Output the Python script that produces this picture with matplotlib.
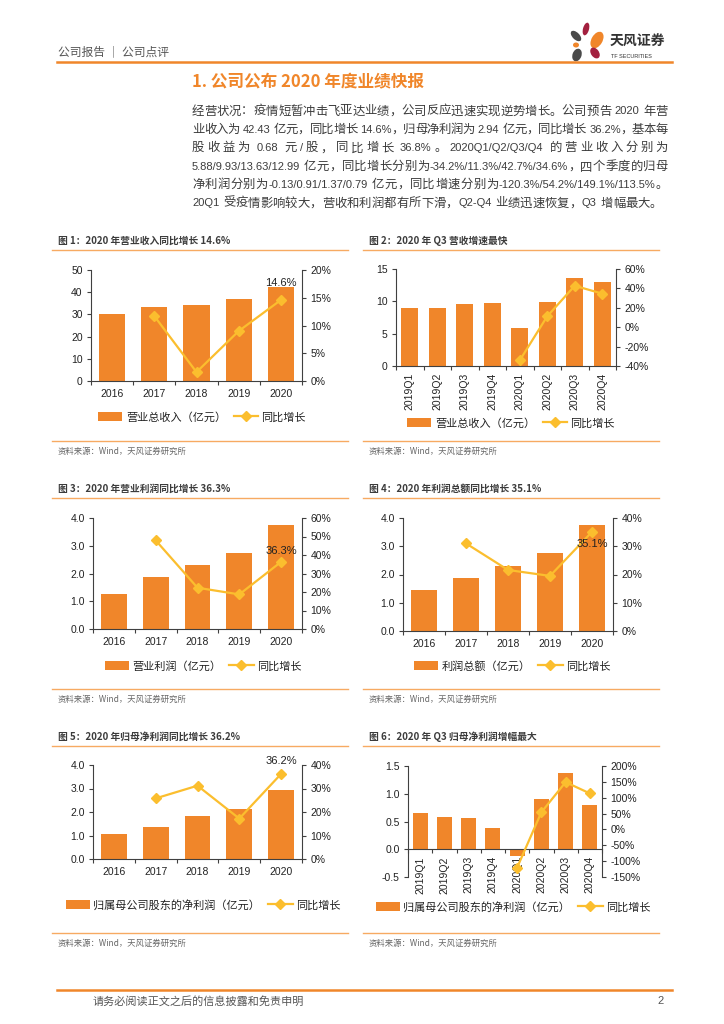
import re
import numpy as np
import matplotlib
matplotlib.use('Agg')
import matplotlib.pyplot as plt
from matplotlib.patches import Patch, Ellipse
from matplotlib.lines import Line2D
from matplotlib.ticker import FuncFormatter

plt.rcParams['font.family'] = ['Liberation Sans', 'Noto Sans CJK SC']
plt.rcParams['axes.unicode_minus'] = False

#==============================================================================#
# Dados
#==============================================================================#
years = ['2016', '2017', '2018', '2019', '2020']
quarters = ['2019Q1', '2019Q2', '2019Q3', '2019Q4',
            '2020Q1', '2020Q2', '2020Q3', '2020Q4']
nan = np.nan

rev_year = [30.0, 33.5, 34.1, 37.1, 42.43]
rev_year_yoy = [nan, 11.7, 1.6, 9.0, 14.6]
rev_q = [8.96, 8.9, 9.58, 9.74, 5.88, 9.93, 13.63, 12.99]
rev_q_yoy = [nan, nan, nan, nan, -34.2, 11.3, 42.7, 34.6]
op_profit = [1.27, 1.89, 2.31, 2.74, 3.74]
op_profit_yoy = [nan, 47.9, 22.3, 18.7, 36.3]
tot_profit = [1.44, 1.89, 2.31, 2.76, 3.74]
tot_profit_yoy = [nan, 31.0, 21.6, 19.5, 35.1]
net_profit = [1.08, 1.38, 1.82, 2.11, 2.94]
net_profit_yoy = [nan, 25.8, 31.2, 17.2, 36.2]
net_q = [0.65, 0.59, 0.56, 0.38, -0.13, 0.91, 1.37, 0.79]
net_q_yoy = [nan, nan, nan, nan, -120.3, 54.2, 149.1, 113.5]

titles = ['图 1：2020 年营业收入同比增长 14.6%',
          '图 2：2020 年 Q3 营收增速最快',
          '图 3：2020 年营业利润同比增长 36.3%',
          '图 4：2020 年利润总额同比增长 35.1%',
          '图 5：2020 年归母净利润同比增长 36.2%',
          '图 6：2020 年 Q3 归母净利润增幅最大']
source = '资料来源：Wind，天风证券研究所'

para = ['经营状况：疫情短暂冲击飞亚达业绩，公司反应迅速实现逆势增长。公司预告 2020 年营',
        '业收入为 42.43 亿元，同比增长 14.6%，归母净利润为 2.94 亿元，同比增长 36.2%，基本每',
        '股收益为 0.68 元/股，同比增长 36.8%。2020Q1/Q2/Q3/Q4 的营业收入分别为',
        '5.88/9.93/13.63/12.99 亿元，同比增长分别为-34.2%/11.3%/42.7%/34.6%，四个季度的归母',
        '净利润分别为-0.13/0.91/1.37/0.79 亿元，同比增速分别为-120.3%/54.2%/149.1%/113.5%。',
        '20Q1 受疫情影响较大，营收和利润都有所下滑，Q2-Q4 业绩迅速恢复，Q3 增幅最大。']

#==============================================================================#
# Estilo
#==============================================================================#
W, H = 724, 1024
BAR = '#F0862A'
LINE = '#FBBE2E'
ORANGE = '#F0862A'
RULE = '#F7AA62'
GREY = '#3c3c3c'
SPINE = '#404040'
CJK = ['Noto Sans CJK SC', 'DejaVu Sans']

fig = plt.figure(figsize=(W / 100, H / 100), dpi=100)
bg = fig.add_axes([0, 0, 1, 1])
bg.set_xlim(0, W)
bg.set_ylim(H, 0)
bg.axis('off')
renderer = fig.canvas.get_renderer()

#==============================================================================#
# Cabeçalho
#==============================================================================#
bg.text(58, 52, '公司报告 ｜ 公司点评', fontsize=8.5, color='#555555',
        family=CJK, va='center')
bg.plot([57, 672], [61.5, 61.5], color=ORANGE, lw=1.8)
#logo
petals = [(586, 29, 6, 13, 15, '#A3203F'), (576, 36, 7, 13, -45, '#4A4A4A'),
          (597, 40, 11, 18, 30, ORANGE), (576, 45, 6, 5, 0, ORANGE),
          (595, 53, 8, 12, -35, '#A3203F'), (577, 55, 9, 13, 20, '#4A4A4A')]
for px, py, pw, ph, pa, pc in petals:
    bg.add_patch(Ellipse((px, py), pw, ph, angle=pa, color=pc, lw=0))
bg.text(610, 42, '天风证券', fontsize=10, fontweight='bold', color='#333333',
        family=CJK, va='center')
bg.text(611, 56, 'TF SECURITIES', fontsize=4, color='#333333', va='center')

bg.text(192, 82, '1. 公司公布 2020 年度业绩快报', fontsize=12, color=ORANGE,
        family=CJK, fontweight='bold', va='center')


#texto justificado
def justify(s, y, x0, x1, size, stretch=True):
    parts = re.findall(r'\s+|[\x21-\x7e]+|.', s)
    toks = []
    sp = False
    for p in parts:
        if p.isspace():
            sp = True
            continue
        toks.append((p, sp))
        sp = False
    objs, widths = [], []
    for tok, _ in toks:
        if re.match(r'[\x21-\x7e]', tok):
            t = bg.text(0, y, tok, fontsize=size - 0.9, color=GREY,
                        family=['Liberation Sans'], va='baseline', ha='left')
        else:
            t = bg.text(0, y, tok, fontsize=size, color=GREY, family=CJK,
                        va='baseline', ha='left')
        widths.append(t.get_window_extent(renderer).width)
        objs.append(t)
    spw = size * 100 / 72 * 0.3
    gaps = [spw if b else 0 for _, b in toks[1:]]
    extra = (x1 - x0) - sum(widths) - sum(gaps) if stretch else 0
    each = extra / len(gaps) if gaps else 0
    x = x0
    for i, t in enumerate(objs):
        if i > 0:
            x += gaps[i - 1] + each
        t.set_x(x)
        x += widths[i]


for i, line in enumerate(para):
    justify(line, 114.5 + 18.4 * i, 192, 668, 8.9, stretch=i < len(para) - 1)


#==============================================================================#
# Gráficos
#==============================================================================#
def chart(box, cats, bars, yoy, ylim, ystep, yfmt, y2lim, y2step, bar_name,
          leg, note=None, rotate=False):
    l, t, r, b = box
    ax = fig.add_axes([l / W, 1 - b / H, (r - l) / W, (b - t) / H])
    ax.set_facecolor('none')
    if ylim[0] < 0:
        ax.spines['bottom'].set_position(('data', 0))
    x = np.arange(len(cats))
    ax.bar(x, bars, width=0.62, color=BAR, zorder=2)
    ax.set_xlim(-0.5, len(cats) - 0.5)
    ax.set_ylim(*ylim)
    ax.set_yticks(np.arange(ylim[0], ylim[1] + ystep / 2, ystep))
    ax.yaxis.set_major_formatter(FuncFormatter(lambda v, p: yfmt % v))
    ax.set_xticks(x)
    ax.set_xticklabels(cats)
    ax.set_xticks(np.arange(len(cats) + 1) - 0.5, minor=True)
    ax.tick_params(axis='x', which='major', length=0, labelsize=7.5,
                   pad=5 if rotate else 6, labelcolor='#222222',
                   labelrotation=90 if rotate else 0)
    ax.tick_params(axis='x', which='minor', length=3, width=0.8, color=SPINE)
    ax.tick_params(axis='y', length=3, width=0.8, color=SPINE, labelsize=7.5,
                   pad=3, labelcolor='#222222')
    for s in ['top', 'right']:
        ax.spines[s].set_visible(False)
    for s in ['left', 'bottom']:
        ax.spines[s].set_color(SPINE)
        ax.spines[s].set_linewidth(0.8)

    ax2 = ax.twinx()
    ax2.plot(x, yoy, color=LINE, lw=1.6, marker='D', ms=5)
    ax2.set_ylim(*y2lim)
    ax2.set_yticks(np.arange(y2lim[0], y2lim[1] + y2step / 2, y2step))
    ax2.yaxis.set_major_formatter(FuncFormatter(lambda v, p: '%d%%' % v))
    ax2.tick_params(axis='y', length=3, width=0.8, color=SPINE, labelsize=7.5,
                    pad=3, labelcolor='#222222')
    for s in ['top', 'left', 'bottom']:
        ax2.spines[s].set_visible(False)
    ax2.spines['right'].set_color(SPINE)
    ax2.spines['right'].set_linewidth(0.8)
    if note is not None:
        ax2.annotate('%.1f%%' % yoy[-1], (x[-1], yoy[-1]), xytext=(0, note),
                     textcoords='offset points', ha='center', va='center',
                     fontsize=8, color='#222222')

    handles = [Patch(facecolor=BAR, edgecolor='none'),
               Line2D([], [], color=LINE, lw=1.6, marker='D', ms=5)]
    fig.legend(handles, [bar_name, '同比增长'], loc='center',
               bbox_to_anchor=(leg[0] / W, 1 - leg[1] / H), ncol=2,
               frameon=False, fontsize=8, handlelength=2.2, handleheight=0.8,
               handletextpad=0.3, columnspacing=0.7, labelcolor='#222222')


chart((91, 270, 302, 381), years, rev_year, rev_year_yoy, (0, 50), 10, '%d',
      (0, 20), 5, '营业总收入（亿元）', (202, 417), note=12)
chart((396, 269, 616, 366), quarters, rev_q, rev_q_yoy, (0, 15), 5, '%d',
      (-40, 60), 20, '营业总收入（亿元）', (511, 423), rotate=True)
chart((93, 518, 302, 629), years, op_profit, op_profit_yoy, (0, 4), 1, '%.1f',
      (0, 60), 10, '营业利润（亿元）', (203, 666), note=8)
chart((403, 518, 613, 631), years, tot_profit, tot_profit_yoy, (0, 4), 1, '%.1f',
      (0, 40), 10, '利润总额（亿元）', (512, 666), note=-9)
chart((93, 765, 302, 859), years, net_profit, net_profit_yoy, (0, 4), 1, '%.1f',
      (0, 40), 10, '归属母公司股东的净利润（亿元）', (203, 905), note=9)
chart((408, 766, 602, 877), quarters, net_q, net_q_yoy, (-0.5, 1.5), 0.5, '%.1f',
      (-150, 200), 50, '归属母公司股东的净利润（亿元）', (513, 907), rotate=True)

#títulos, linhas e fontes
title_y = [241, 489, 737]
for i, ty in enumerate(title_y):
    for j, (x0, x1, tx) in enumerate([(52, 348, 58), (363, 659, 369)]):
        bg.text(tx, ty, titles[2 * i + j], fontsize=7, fontweight='bold',
                color=GREY, family=CJK, va='center')
        bg.plot([x0, x1], [ty + 9, ty + 9], color=RULE, lw=1)
        bg.plot([x0, x1], [ty + 200 - (0 if i < 2 else 4),
                           ty + 200 - (0 if i < 2 else 4)], color=RULE, lw=1)
        bg.text(tx, ty + 210 - (0 if i < 2 else 4), source, fontsize=6,
                color='#666666', family=CJK, va='center')

#rodapé
bg.plot([57, 672], [990, 990], color=ORANGE, lw=1.8)
bg.text(93, 1001, '请务必阅读正文之后的信息披露和免责申明', fontsize=8,
        color='#555555', family=CJK, va='center')
bg.text(664, 1001, '2', fontsize=8, color='#555555', va='center', ha='right')

fig.savefig('out.png', dpi=100)
